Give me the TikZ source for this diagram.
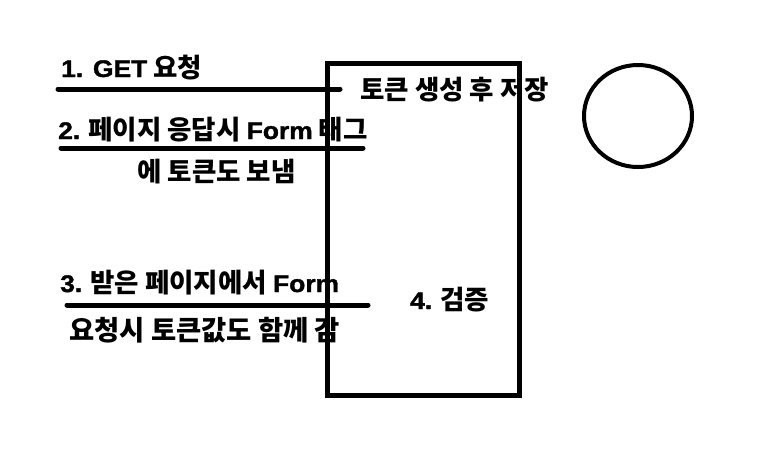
\documentclass[tikz,border=0pt]{standalone}
\usepackage{fontspec}
\setmainfont{Liberation Sans}
\newfontfamily\lat[FakeStretch=1.1, FakeBold=1.5, UprightFont={Liberation Sans Bold}, BoldFont={Liberation Sans Bold}]{Liberation Sans}
\newfontfamily\kr{Noto Sans CJK KR}
\newcommand{\la}[1]{{\fontsize{24}{27}\selectfont\lat #1}}
\usetikzlibrary{shapes.geometric}
\tikzset{
  lbl/.style={anchor=base west, inner sep=0pt, font=\fontsize{26.5}{30}\selectfont\kr\bfseries},
  bar/.style={line width=5pt, line cap=round},
}
\begin{document}
\begin{tikzpicture}[x=1pt,y=-1pt]
\useasboundingbox[fill=white] (0,0) rectangle (770,453);
\node[draw, line width=5pt, minimum width=192pt, minimum height=332pt, inner sep=0pt] (box) at (423,229) {};
\node[draw, ellipse, line width=4pt, minimum width=108pt, minimum height=102pt, inner sep=0pt] (circ) at (638,116) {};
\coordinate (l1a) at (58,89);  \coordinate (l1b) at (340,89);
\coordinate (l2a) at (61,148); \coordinate (l2b) at (363,148);
\coordinate (l3a) at (67,305); \coordinate (l3b) at (368,305);
\draw[bar] (l1a) -- (l1b);
\draw[bar] (l2a) -- (l2b);
\draw[bar] (l3a) -- (l3b);
\node[lbl] (t1) at (61,77) {\la{1. GET} 요청};
\node[lbl] (t2) at (58,139) {\la{2.} 페이지 응답시 \la{Form} 태그};
\node[lbl] (t3) at (137,181) {에 토큰도 보냄};
\node[lbl] (t4) at (360,99) {토큰 생성 후 저장};
\node[lbl] (t5) at (60,292) {\la{3.} 받은 페이지에서 \la{Form}};
\node[lbl, font=\fontsize{27.4}{30}\selectfont\kr\bfseries] (t6) at (69,340) {요청시 토큰값도 함께 감};
\node[lbl] (t7) at (410,309) {\la{4.} 검증};
\end{tikzpicture}
\end{document}
